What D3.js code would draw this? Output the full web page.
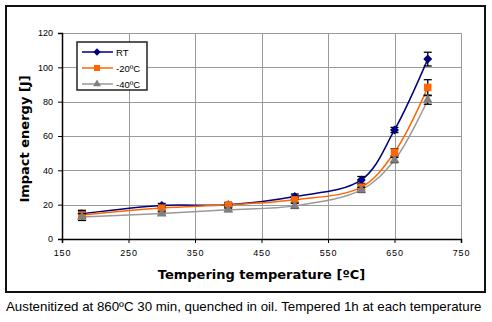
<!DOCTYPE html>
<html>
<head>
<meta charset="utf-8">
<script src="https://cdn.jsdelivr.net/npm/d3@7"></script>
<style>
  body { margin: 0; background: #fff; }
  svg { display: block; }
</style>
</head>
<body>
<div id="chart"></div>
<script>
// tempering temperatures [ºC]
const temps = [180, 300, 400, 500, 600, 650, 700];

// impact energy [J] per test temperature
const rtValues = [14.7, 19.5, 19.9, 24.7, 34.4, 63.5, 104.8];
const m20Values = [14.0, 18.0, 19.9, 22.8, 30.2, 50.5, 88.3];
const m40Values = [12.8, 14.8, 17.0, 19.3, 28.6, 46.0, 81.0];

// error bar half widths [J]
const rtErr = [2, 1.2, 1.2, 1.5, 2, 1.5, 4];
const m20Err = [2, 1.2, 1.2, 1.5, 1.5, 2, 4.5];
const m40Err = [2, 1, 1, 1.5, 1.5, 1.5, 2.5];

const seriesNames = ['RT', '-20ºC', '-40ºC'];
const xTicks = [150, 250, 350, 450, 550, 650, 750];
const yTicks = [0, 20, 40, 60, 80, 100, 120];

// diamond as a square turned 45 degrees
const diamond = {
  draw(ctx, size) {
    const r = Math.sqrt(size / 2);
    ctx.moveTo(0, -r);
    ctx.lineTo(r, 0);
    ctx.lineTo(0, r);
    ctx.lineTo(-r, 0);
    ctx.closePath();
  }
};

const series = [
  { name: seriesNames[0], values: rtValues, err: rtErr, color: '#000080', marker: diamond, size: 34 },
  { name: seriesNames[1], values: m20Values, err: m20Err, color: '#ff6600', marker: d3.symbolSquare, size: 46 },
  { name: seriesNames[2], values: m40Values, err: m40Err, color: '#999999', marker: d3.symbolTriangle, size: 34, fill: '#808080' }
];

const W = 492, H = 322;
const plot = { left: 62, right: 461, top: 33, bottom: 239 };

const svg = d3.select('#chart').append('svg')
  .attr('width', W)
  .attr('height', H);

const x = d3.scaleLinear().domain([150, 750]).range([plot.left, plot.right]);
const y = d3.scaleLinear().domain([0, 120]).range([plot.bottom, plot.top]);

// outer frame
svg.append('rect')
  .attr('x', 6).attr('y', 6)
  .attr('width', 479).attr('height', 286)
  .attr('fill', 'none')
  .attr('stroke', '#111')
  .attr('stroke-width', 2);

// grid
const grid = svg.append('g').attr('stroke', '#9a9a9a').attr('stroke-width', 1);
grid.selectAll('.gx')
  .data(xTicks.slice(1))
  .enter().append('line')
  .attr('x1', d => Math.round(x(d)) + 0.5).attr('x2', d => Math.round(x(d)) + 0.5)
  .attr('y1', plot.top).attr('y2', plot.bottom);
grid.selectAll('.gy')
  .data(yTicks.slice(1))
  .enter().append('line')
  .attr('x1', plot.left).attr('x2', plot.right)
  .attr('y1', d => Math.round(y(d)) + 0.5).attr('y2', d => Math.round(y(d)) + 0.5);

// axes
const xAxis = svg.append('g')
  .attr('transform', `translate(0,${plot.bottom})`)
  .call(d3.axisBottom(x).tickValues(xTicks).tickSize(4).tickPadding(7));
const yAxis = svg.append('g')
  .attr('transform', `translate(${plot.left},0)`)
  .call(d3.axisLeft(y).tickValues(yTicks).tickSize(4).tickPadding(5));

[xAxis, yAxis].forEach(a => {
  a.select('.domain').attr('stroke', '#000').attr('stroke-width', 1.5);
  a.selectAll('.tick line').attr('stroke', '#000');
  a.selectAll('.tick text')
    .attr('font-family', 'Liberation Sans, Arial, sans-serif')
    .attr('font-size', 9)
    .attr('fill', '#000');
});
xAxis.selectAll('.tick text').attr('letter-spacing', 0.8);

// lines, error bars and markers
const line = d3.line()
  .x((d, i) => x(temps[i]))
  .y(d => y(d))
  .curve(d3.curveCatmullRom.alpha(0.5));

series.forEach(s => {
  svg.append('path')
    .datum(s.values)
    .attr('fill', 'none')
    .attr('stroke', s.color)
    .attr('stroke-width', 1.5)
    .attr('d', line);
});

series.forEach(s => {
  const g = svg.append('g');
  const pts = s.values.map((v, i) => ({ t: temps[i], v: v, e: s.err[i] }));
  const eb = g.selectAll('.err').data(pts).enter().append('g')
    .attr('stroke', '#000').attr('stroke-width', 1.3);
  eb.append('line')
    .attr('x1', d => x(d.t)).attr('x2', d => x(d.t))
    .attr('y1', d => y(d.v - d.e)).attr('y2', d => y(d.v + d.e));
  eb.append('line')
    .attr('x1', d => x(d.t) - 4).attr('x2', d => x(d.t) + 4)
    .attr('y1', d => y(d.v + d.e)).attr('y2', d => y(d.v + d.e));
  eb.append('line')
    .attr('x1', d => x(d.t) - 4).attr('x2', d => x(d.t) + 4)
    .attr('y1', d => y(d.v - d.e)).attr('y2', d => y(d.v - d.e));
  g.selectAll('.mk').data(pts).enter().append('path')
    .attr('transform', d => `translate(${x(d.t)},${y(d.v)})`)
    .attr('d', d3.symbol().type(s.marker).size(s.size * 1.2))
    .attr('fill', s.fill || s.color);
});

// legend
const legend = svg.append('g');
legend.append('rect')
  .attr('x', 77).attr('y', 42)
  .attr('width', 70).attr('height', 48)
  .attr('fill', '#fff')
  .attr('stroke', '#222')
  .attr('stroke-width', 1.5);
const ly = d3.scalePoint().domain(seriesNames).range([52, 84]);
series.forEach(s => {
  const yy = ly(s.name);
  legend.append('line')
    .attr('x1', 82).attr('x2', 113)
    .attr('y1', yy).attr('y2', yy)
    .attr('stroke', s.color).attr('stroke-width', 1.5);
  legend.append('path')
    .attr('transform', `translate(97,${yy})`)
    .attr('d', d3.symbol().type(s.marker).size(s.size * 0.8))
    .attr('fill', s.fill || s.color);
  legend.append('text')
    .attr('x', 116).attr('y', yy + 3.5)
    .attr('font-family', 'Liberation Sans, Arial, sans-serif')
    .attr('font-size', 9.5)
    .text(s.name);
});

// axis titles
svg.append('text')
  .attr('x', (plot.left + plot.right) / 2).attr('y', 279)
  .attr('text-anchor', 'middle')
  .attr('font-family', 'DejaVu Sans, Verdana, sans-serif')
  .attr('font-weight', 'bold')
  .attr('font-size', 13)
  .text('Tempering temperature [ºC]');

svg.append('text')
  .attr('transform', 'translate(29,139) rotate(-90)')
  .attr('text-anchor', 'middle')
  .attr('font-family', 'DejaVu Sans, Verdana, sans-serif')
  .attr('font-weight', 'bold')
  .attr('font-size', 13)
  .text('Impact energy [J]');

// caption
svg.append('text')
  .attr('x', 6).attr('y', 311)
  .attr('font-family', 'Liberation Sans, Arial, sans-serif')
  .attr('font-size', 13.3)
  .text('Austenitized at 860ºC 30 min, quenched in oil. Tempered 1h at each temperature');
</script>
</body>
</html>
